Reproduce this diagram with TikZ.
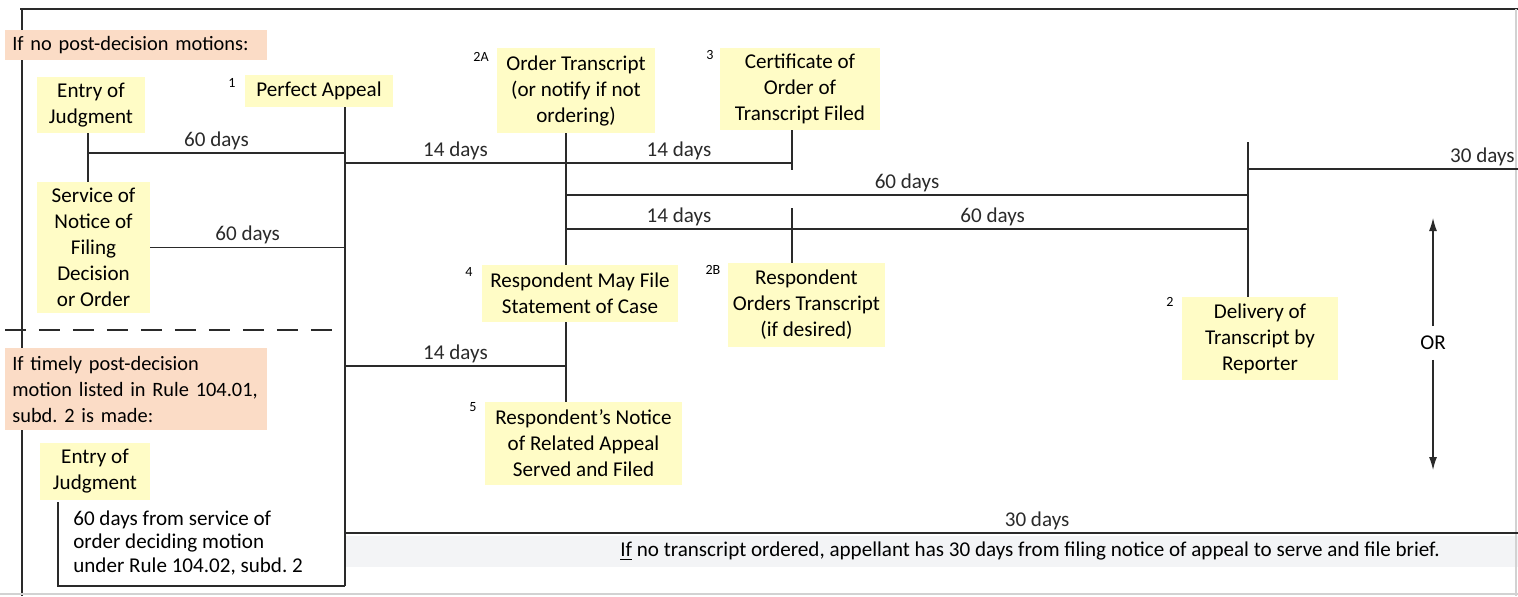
\documentclass[tikz,border=0pt]{standalone}
\usepackage{fontspec}
\setmainfont{Carlito}
\usetikzlibrary{arrows.meta}
\definecolor{noteyellow}{HTML}{FFFCC6}
\definecolor{noteorange}{HTML}{FBDCC6}
\definecolor{bandgray}{HTML}{F3F4F6}
\definecolor{inkgray}{HTML}{2A2A2A}
\tikzset{
  event/.style={fill=noteyellow, align=center, inner sep=0pt, font=\fontsize{12}{14.8}\selectfont},
  cond/.style={fill=noteorange, anchor=west, align=left, inner xsep=0.14cm, inner ysep=0pt, text width=4.96cm, font=\fontsize{11.6}{14.8}\selectfont},
  days/.style={above, inner sep=1.5pt, font=\fontsize{12}{14}\selectfont},
  num/.style={inner sep=0pt, font=\fontsize{8}{9}\selectfont},
  bar/.style={line width=1.4pt, inkgray},
  span/.style={line width=0.8pt, inkgray},
}
\frenchspacing
\begin{document}
\begin{tikzpicture}[x=0.02cm, y=-0.02cm]
        \useasboundingbox (0,0) rectangle (1518,596);
        % frame
        \fill[bandgray] (345,536) rectangle (1518,567);
        \draw[line width=0.8pt, inkgray] (20,9) -- (1518,9);
        \draw[line width=0.8pt, inkgray] (22,9) -- (22,596);
        \draw[line width=0.8pt, gray!35] (1516,9) -- (1516,596);
        \draw[line width=0.8pt, gray!35] (0,594) -- (1518,594);
        % conditions
        \node[cond, minimum height=0.6cm] (nomotion) at (5,45) {If no post-decision motions:};
        \node[cond, minimum height=1.64cm] (motion) at (5,389)
            {If timely post-decision\\motion listed in Rule 104.01,\\subd. 2 is made:};
        % events
        \node[event, minimum width=2.16cm, minimum height=1.12cm] (judg) at (91,105) {Entry of\\Judgment};
        \node[event, minimum width=2.26cm, minimum height=2.62cm] (service) at (93.5,247.5)
            {Service of\\Notice of\\Filing\\Decision\\or Order};
        \node[event, minimum width=2.96cm, minimum height=0.64cm] (perfect) at (319,91) {Perfect Appeal};
        \node[event, minimum width=3.16cm, minimum height=1.7cm] (order) at (576,90.5)
            {Order Transcript\\(or notify if not\\ordering)};
        \node[event, minimum width=3.2cm, minimum height=1.64cm] (cert) at (800,89)
            {Certificate of\\Order of\\Transcript Filed};
        \node[event, minimum width=3.92cm, minimum height=1.14cm] (statement) at (580,293.5)
            {Respondent May File\\Statement of Case};
        \node[event, minimum width=3.14cm, minimum height=1.68cm] (resporder) at (806.5,305)
            {Respondent\\Orders Transcript\\(if desired)};
        \node[event, minimum width=3.94cm, minimum height=1.66cm] (related) at (583.5,443.5)
            {Respondent’s Notice\\of Related Appeal\\Served and Filed};
        \node[event, minimum width=3.12cm, minimum height=1.66cm] (delivery) at (1260,338.5)
            {Delivery of\\Transcript by\\Reporter};
        \node[event, minimum width=2.2cm, minimum height=1.14cm] (judgtwo) at (95,471.5) {Entry of\\Judgment};
        % rule numbers
        \node[num] (n1)  at (232,83)  {1};
        \node[num] (n2a) at (481,57)  {2A};
        \node[num] (n3)  at (710,55)  {3};
        \node[num] (n4)  at (469,272) {4};
        \node[num] (n2b) at (713,270) {2B};
        \node[num] (n5)  at (473,407) {5};
        \node[num] (n2)  at (1170,302) {2};
        % bar positions
        \coordinate (jbar)   at (88,153);
        \coordinate (pa-top) at (345,107);
        \coordinate (pa-end) at (345,586);
        \coordinate (ot-bar) at (566,133);
        \coordinate (ct-bar) at (792,130);
        \coordinate (ct-end) at (792,170);
        \coordinate (rb-top) at (792,208);
        \coordinate (dl-top) at (1248,142);
        \coordinate (edge)   at (1518,169);
        \coordinate (j2-bar) at (58,502);
        % vertical bars
        \draw[bar] (jbar |- judg.south) -- (jbar |- service.north);
        \draw[bar] (pa-top) -- (pa-end);
        \draw[bar] (ot-bar) -- (ot-bar |- statement.north);
        \draw[bar] (ot-bar |- statement.south) -- (ot-bar |- related.north);
        \draw[bar] (ct-bar) -- (ct-end);
        \draw[bar] (rb-top) -- (rb-top |- resporder.north);
        \draw[bar] (dl-top) -- (dl-top |- delivery.north);
        \draw[bar] (j2-bar) -- (j2-bar |- pa-end) -- (pa-end);
        % dashed divider
        \draw[line width=1.1pt, inkgray, dash pattern=on 0.42cm off 0.26cm] (5,330) -- (pa-top |- 0,330);
        % time spans
        \draw[span] (jbar) -- (jbar -| pa-top) node[days, midway] {60 days};
        \draw[span] (service.east) -- (service.east -| pa-top) node[days, midway] {60 days};
        \draw[span] (pa-top |- 0,163) -- (ot-bar |- 0,163) node[days, midway] {14 days}
            -- (ct-bar |- 0,163) node[days, midway] {14 days};
        \draw[span] (ot-bar |- 0,195) -- (dl-top |- 0,195) node[days, midway] {60 days};
        \draw[span] (ot-bar |- 0,229) -- (rb-top |- 0,229) node[days, midway] {14 days}
            -- (dl-top |- 0,229) node[days, pos=0.44] {60 days};
        \draw[span] (pa-top |- 0,366) -- (ot-bar |- 0,366) node[days, midway] {14 days};
        \draw[span] (dl-top |- edge) -- (edge) node[days, anchor=south east, pos=1] {30 days};
        \draw[span] (pa-top |- 0,533) -- (1518,533) node[days, pos=0.59] {30 days};
        % either / or
        \node[inner sep=0pt, minimum height=0.66cm, font=\fontsize{12}{14}\selectfont] (or) at (1433,343) {OR};
        \coordinate (or-up) at (1433,218);
        \coordinate (or-dn) at (1433,470);
        \draw[line width=0.7pt, inkgray, -{Latex[length=0.26cm, width=0.16cm]}] (or.north) -- (or-up);
        \draw[line width=0.7pt, inkgray, -{Latex[length=0.26cm, width=0.16cm]}] (or.south) -- (or-dn);
        % notes
        \node[anchor=west, align=left, inner sep=0pt, font=\fontsize{12}{13.6}\selectfont] (fromservice) at (73,543)
            {60 days from service of\\order deciding motion\\under Rule 104.02, subd. 2};
        \node[inner sep=0pt, font=\fontsize{12}{14}\selectfont] (nobrief) at (1030,551)
            {\underline{If} no transcript ordered, appellant has 30 days from filing notice of appeal to serve and file brief.};
    \end{tikzpicture}
\end{document}
